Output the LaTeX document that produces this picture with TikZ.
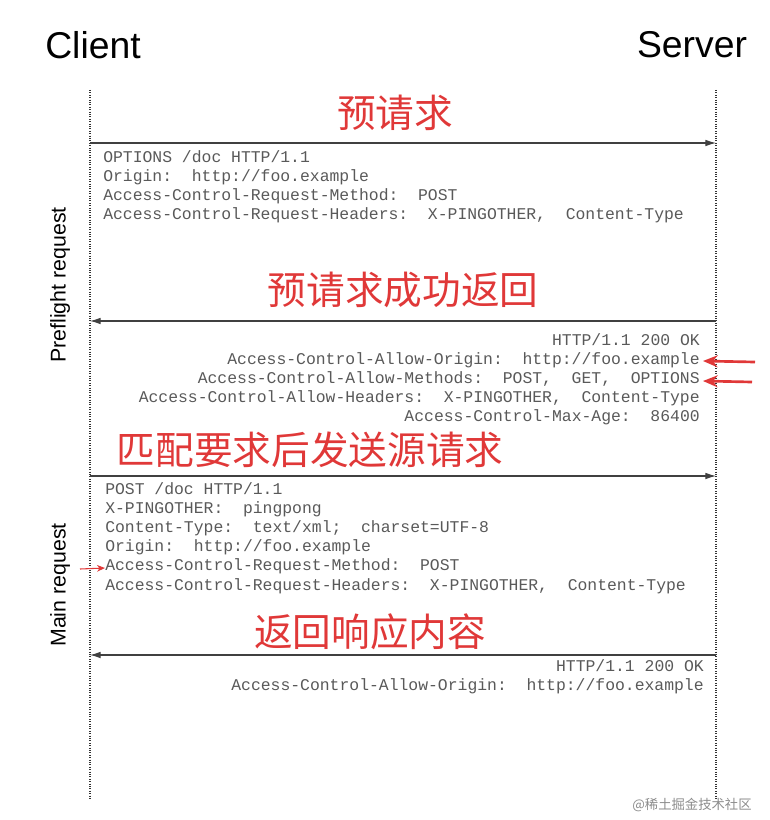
\documentclass[tikz,border=0pt]{standalone}
\usepackage{fontspec}
\setmainfont{Liberation Sans}
\setmonofont{Liberation Mono}
\newfontfamily\cjk{Noto Sans CJK SC}
\usetikzlibrary{positioning,arrows.meta}
\definecolor{msggray}{rgb}{0.35,0.35,0.35}
\definecolor{notered}{rgb}{0.88,0.22,0.22}

\begin{document}
\begin{tikzpicture}[x=0.75pt,y=-0.75pt,>=latex]
    \tikzstyle{actor}=[font=\fontsize{28}{30}\selectfont]
    \tikzstyle{lifeline}=[densely dotted, thick, black!80]
    \tikzstyle{msg}=[-{Latex[length=8pt,width=5pt]}, thick, black!75]
    \tikzstyle{note}=[text=notered, font=\cjk\fontsize{29}{31}\selectfont]
    \tikzstyle{hdrs}=[text=msggray, font=\ttfamily\fontsize{12.3}{14.4}\selectfont, inner sep=0pt, align=left]
    \tikzstyle{hdrsr}=[hdrs, align=right]
    \tikzstyle{phase}=[rotate=90, font=\fontsize{16}{18}\selectfont]
    \tikzstyle{redarrow}=[-{Stealth[length=11pt,width=9pt]}, line width=2pt, notered]
    \useasboundingbox (0,0) rectangle (769,820);

    % Actors
    \node[actor] (client) at (93,45) {Client};
    \node[actor] (server) at (692,45) {Server};

    % Lifelines
    \coordinate (c0) at (90,90);
    \coordinate (c1) at (90,800);
    \coordinate (s0) at (716,90);
    \coordinate (s1) at (716,800);
    \draw[lifeline] (c0) -- (c1);
    \draw[lifeline] (s0) -- (s1);

    % Phases
    \node[phase] (pre) at (60,285) {Preflight request};
    \node[phase] (main) at (60,585) {Main request};

    % Preflight
    \coordinate (m1a) at (90,143);
    \coordinate (m1b) at (716,143);
    \draw[msg] (m1a) -- (m1b);
    \node[note] (n1) at (395,113) {预请求};
    \node[hdrs, anchor=north west] (h1) at (103,150) {OPTIONS /doc HTTP/1.1\\Origin:~~http://foo.example\\Access-Control-Request-Method:~~POST\\Access-Control-Request-Headers:~~X-PINGOTHER,~~Content-Type};

    \coordinate (m2a) at (716,321);
    \coordinate (m2b) at (90,321);
    \draw[msg] (m2a) -- (m2b);
    \node[note] (n2) at (403,290) {预请求成功返回};
    \node[hdrsr, anchor=north east] (h2) at (700,333) {HTTP/1.1 200 OK\\Access-Control-Allow-Origin:~~http://foo.example\\Access-Control-Allow-Methods:~~POST,~~GET,~~OPTIONS\\Access-Control-Allow-Headers:~~X-PINGOTHER,~~Content-Type\\Access-Control-Max-Age:~~86400};
    \coordinate (r1) at (755,362);
    \coordinate (r2) at (752,382);
    \draw[redarrow] (r1) -- (703,361);
    \draw[redarrow] (r2) -- (703,381);

    % Main
    \coordinate (m3a) at (90,476);
    \coordinate (m3b) at (716,476);
    \draw[msg] (m3a) -- (m3b);
    \node[note] (n3) at (310,450) {匹配要求后发送源请求};
    \node[hdrs, anchor=north west] (h3) at (105,482) {POST /doc HTTP/1.1\\X-PINGOTHER:~~pingpong\\Content-Type:~~text/xml;~~charset=UTF-8\\Origin:~~http://foo.example\\Access-Control-Request-Method:~~POST\\Access-Control-Request-Headers:~~X-PINGOTHER,~~Content-Type};
    \coordinate (r3) at (80,569);
    \draw[-{Stealth[length=6pt,width=5pt]}, thick, notered] (r3) -- (105,568);

    \coordinate (m4a) at (716,655);
    \coordinate (m4b) at (90,655);
    \draw[msg] (m4a) -- (m4b);
    \node[note] (n4) at (370,632) {返回响应内容};
    \node[hdrsr, anchor=north east] (h4) at (704,659) {HTTP/1.1 200 OK\\Access-Control-Allow-Origin:~~http://foo.example};

    % Watermark
    \node[text=black!45, font=\cjk\fontsize{10}{12}\selectfont] (wm) at (692,805) {@稀土掘金技术社区};
\end{tikzpicture}
\end{document}
